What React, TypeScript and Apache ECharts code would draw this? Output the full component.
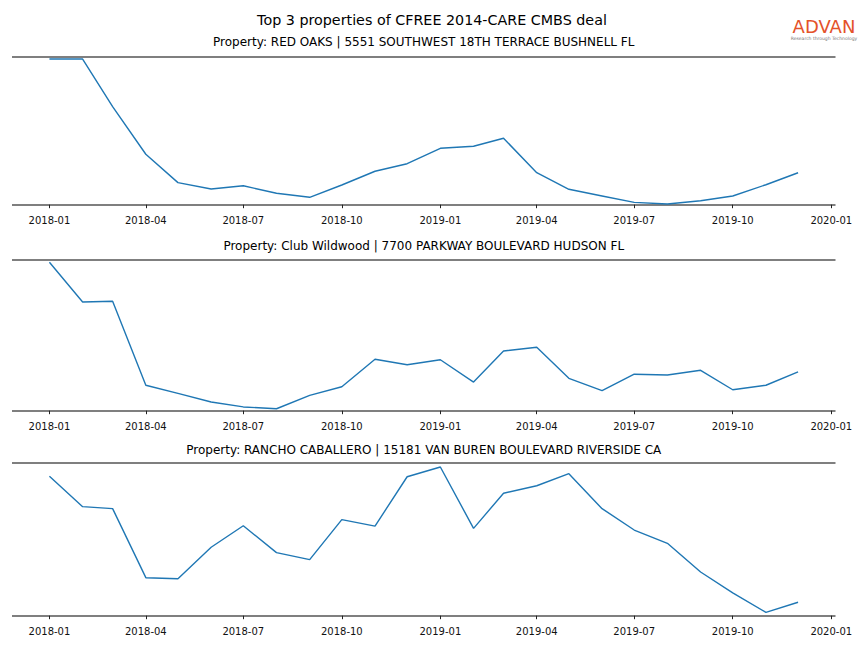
import { useEffect, useRef } from "react";
import * as echarts from "echarts";

const months = [
  "2018-01", "2018-02", "2018-03", "2018-04", "2018-05", "2018-06",
  "2018-07", "2018-08", "2018-09", "2018-10", "2018-11", "2018-12",
  "2019-01", "2019-02", "2019-03", "2019-04", "2019-05", "2019-06",
  "2019-07", "2019-08", "2019-09", "2019-10", "2019-11", "2019-12",
];

const tickLabels = [
  "2018-01", "2018-04", "2018-07", "2018-10",
  "2019-01", "2019-04", "2019-07", "2019-10", "2020-01",
];

const chartTitle = "Top 3 properties of CFREE 2014-CARE CMBS deal";

const propertyTitles = [
  "Property: RED OAKS | 5551 SOUTHWEST 18TH TERRACE BUSHNELL FL",
  "Property: Club Wildwood | 7700 PARKWAY BOULEVARD HUDSON FL",
  "Property: RANCHO CABALLERO | 15181 VAN BUREN BOULEVARD RIVERSIDE CA",
];

// relative values (0 = bottom rule, 100 = top rule)
const redOaks = [
  98.4, 98.4, 66.2, 34.1, 14.9, 10.6, 12.8, 7.7, 5.0, 13.3, 22.6, 27.7,
  38.1, 39.5, 44.9, 21.6, 10.4, 5.9, 1.6, 0.5, 2.7, 5.9, 13.5, 21.6,
];
const clubWildwood = [
  98.5, 72.1, 72.6, 16.9, 11.5, 5.8, 2.5, 1.3, 10.2, 15.9, 34.1, 30.5,
  33.8, 19.0, 39.6, 42.1, 21.5, 13.3, 24.2, 23.7, 26.8, 13.9, 16.9, 25.7,
];
const ranchoCaballero = [
  91.3, 71.4, 70.1, 24.9, 24.2, 44.8, 58.9, 41.3, 36.7, 62.9, 58.7, 91.0,
  97.4, 57.2, 80.2, 85.1, 93.0, 70.1, 56.1, 47.4, 28.6, 14.9, 2.2, 8.8,
];

const seriesValues = [redOaks, clubWildwood, ranchoCaballero];

const GRID_LEFT = 12;
const GRID_RIGHT = 28.5;
const GRID_TOPS = [56.7, 260, 463];
const GRID_BOTTOMS = [204.7, 410.7, 615.7];
const TITLE_YS = [41.5, 246, 450];
const FONT = "DejaVu Sans";

const toTime = (s: string) => {
  const [y, m] = s.split("-").map(Number);
  return Date.UTC(y, m - 1, 1);
};

const fmt = (v: number) => {
  const d = new Date(v);
  return `${d.getUTCFullYear()}-${String(d.getUTCMonth() + 1).padStart(2, "0")}`;
};

export default function App() {
  const ref = useRef<HTMLDivElement>(null);

  useEffect(() => {
    if (!ref.current) return;
    const chart = echarts.init(ref.current, undefined, { renderer: "svg" });

    const t0 = toTime(months[0]);
    const t1 = toTime(months[months.length - 1]);
    const span = t1 - t0;
    const xMin = t0 - 0.05 * span;
    const xMax = t1 + 0.05 * span;
    const tickTimes = tickLabels.map(toTime);

    const idx = [0, 1, 2];
    const subCenter = (GRID_LEFT + (864 - GRID_RIGHT)) / 2;

    const textEl = (
      text: string,
      x: number,
      y: number,
      fontSize: number,
      fill: string,
      fontWeight: string = "normal"
    ) => ({
      type: "text",
      x,
      y,
      silent: true,
      style: {
        text,
        fill,
        fontSize,
        fontFamily: FONT,
        fontWeight,
        align: "center",
        verticalAlign: "middle",
        textAlign: "center",
        textVerticalAlign: "middle",
      },
    });

    chart.setOption({
      animation: false,
      backgroundColor: "#ffffff",
      textStyle: { fontFamily: FONT },
      grid: idx.map((i) => ({
        left: GRID_LEFT,
        right: GRID_RIGHT,
        top: GRID_TOPS[i],
        height: GRID_BOTTOMS[i] - GRID_TOPS[i],
        containLabel: false,
        outerBoundsMode: "none",
      })),
      xAxis: idx.map((i) => ({
        type: "value",
        gridIndex: i,
        min: xMin,
        max: xMax,
        offset: 6.3,
        axisLine: { show: false },
        splitLine: { show: false },
        axisTick: {
          show: true,
          length: 3.5,
          customValues: tickTimes,
          lineStyle: { color: "#222", width: 1 },
        },
        axisLabel: {
          show: true,
          customValues: tickTimes,
          formatter: fmt,
          fontSize: 10,
          fontFamily: FONT,
          color: "#111",
          margin: 4.5,
          hideOverlap: false,
        },
      })),
      yAxis: idx.map((i) => ({
        type: "value",
        gridIndex: i,
        min: 0,
        max: 100,
        interval: 100,
        axisLine: { show: false },
        axisTick: { show: false },
        axisLabel: { show: false },
        splitLine: { show: true, lineStyle: { color: "#555555", width: 1.7 } },
      })),
      series: idx.map((i) => ({
        type: "line",
        xAxisIndex: i,
        yAxisIndex: i,
        data: months.map((m, j) => [toTime(m), seriesValues[i][j]]),
        showSymbol: false,
        symbol: "none",
        clip: false,
        lineStyle: { color: "#1f77b4", width: 1.4 },
        itemStyle: { color: "#1f77b4" },
      })),
      graphic: [
        textEl(chartTitle, 432, 20, 14.3, "#000"),
        ...idx.map((i) => textEl(propertyTitles[i], subCenter, TITLE_YS[i], 12, "#000")),
        textEl("ADVAN", 824, 26.5, 18, "#e4522a"),
        textEl("Research through Technology", 824, 38.8, 4.5, "#777"),
      ],
    });

    return () => chart.dispose();
  }, []);

  return (
    <div
      ref={ref}
      style={{ position: "absolute", left: 0, top: 0, width: 864, height: 648 }}
    />
  );
}
